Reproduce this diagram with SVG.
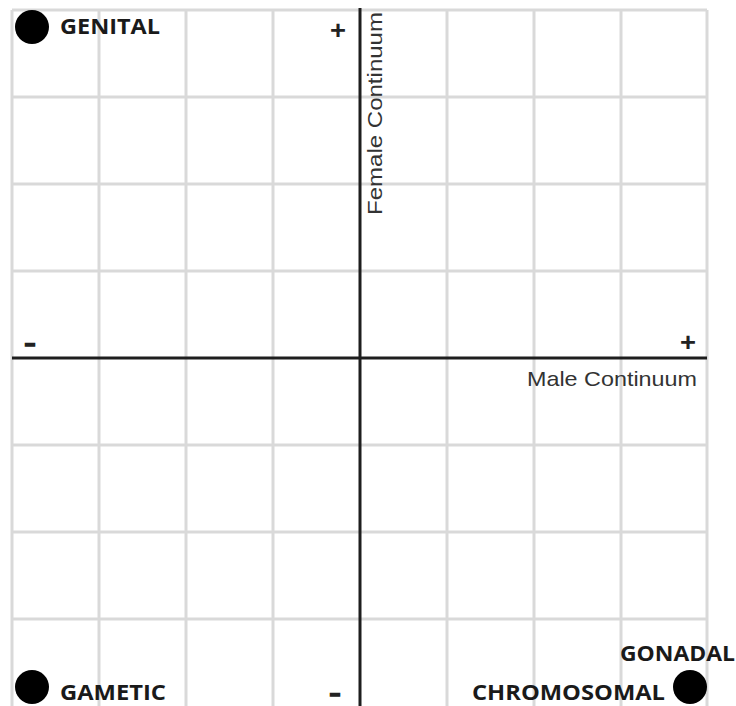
<svg xmlns="http://www.w3.org/2000/svg" width="736" height="706" viewBox="0 0 736 706">
<style>
.grid{stroke:#d9d9d9;stroke-width:3;fill:none}
.axis{stroke:#1e1e1e;stroke-width:3;fill:none}
.lbl{font-family:"Open Sans","Liberation Sans",sans-serif;font-weight:bold;font-size:22px;fill:#1a1a1a}
.cont{font-family:"Liberation Sans",sans-serif;font-size:21px;fill:#333}
.sign{font-family:"Liberation Sans",sans-serif;font-size:26px;font-weight:bold;fill:#222}
.minus{font-family:"Liberation Sans",sans-serif;font-size:22px;font-weight:bold;fill:#222;stroke:#222;stroke-width:1.4}
.dot{fill:#000}
</style>
<rect width="736" height="706" fill="#fff"/>
<g id="grid" class="grid">
<path d="M12 10V706M99 10V706M186 10V706M273 10V706M447 10V706M534 10V706M621 10V706M707 10V706"/>
<path d="M12 10H707M12 97H707M12 184H707M12 271H707M12 445H707M12 532H707M12 619H707"/>
</g>
<g id="connectors" class="axis">
<path d="M360 8V706"/>
<path d="M12 358H707"/>
</g>
<g id="axis-labels">
<text class="sign" x="338" y="39" text-anchor="middle" textLength="16" lengthAdjust="spacingAndGlyphs">+</text>
<text class="sign" x="688" y="351" text-anchor="middle" textLength="16" lengthAdjust="spacingAndGlyphs">+</text>
<text class="minus" x="30" y="350" text-anchor="middle" textLength="11" lengthAdjust="spacingAndGlyphs">-</text>
<text class="minus" x="335" y="700" text-anchor="middle" textLength="11" lengthAdjust="spacingAndGlyphs">-</text>
<text class="cont" x="527" y="386" textLength="170" lengthAdjust="spacingAndGlyphs">Male Continuum</text>
<text class="cont" transform="translate(382 215) rotate(-90)" x="0" y="0" textLength="203" lengthAdjust="spacingAndGlyphs">Female Continuum</text>
</g>
<g id="genital">
<circle class="dot" cx="32" cy="27" r="17"/>
<text class="lbl" x="60" y="34" textLength="100" lengthAdjust="spacingAndGlyphs">GENITAL</text>
</g>
<g id="gametic">
<circle class="dot" cx="32" cy="687" r="17"/>
<text class="lbl" x="60" y="700" textLength="106" lengthAdjust="spacingAndGlyphs">GAMETIC</text>
</g>
<g id="gonadal">
<text class="lbl" x="620" y="661" textLength="115" lengthAdjust="spacingAndGlyphs">GONADAL</text>
</g>
<g id="chromosomal">
<text class="lbl" x="472" y="700" textLength="193" lengthAdjust="spacingAndGlyphs">CHROMOSOMAL</text>
<circle class="dot" cx="690" cy="687" r="17"/>
</g>
</svg>
